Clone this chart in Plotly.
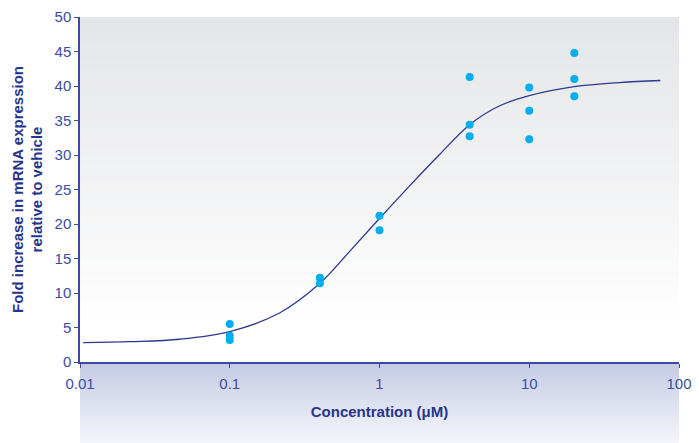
import plotly.graph_objects as go

# Measured data points
conc = [0.1, 0.1, 0.1, 0.4, 0.4, 1, 1, 4, 4, 4, 10, 10, 10, 20, 20, 20]
fold = [5.5, 3.8, 3.2, 12.2, 11.4, 21.2, 19.1, 41.3, 34.4, 32.7, 39.8, 36.4, 32.3, 44.8, 41.0, 38.5]

# Fitted curve
curve_x = [0.0105, 0.0215, 0.0465, 0.1, 0.215, 0.4, 0.63, 1.0, 1.6, 2.5, 4.0, 6.3, 10, 20, 40, 75]
curve_y = [2.8, 2.95, 3.3, 4.4, 7.1, 11.4, 16.0, 20.8, 25.6, 30.0, 34.4, 37.1, 38.6, 39.9, 40.5, 40.8]

x_ticks = [0.01, 0.1, 1, 10, 100]
x_tick_labels = ["0.01", "0.1", "1", "10", "100"]
y_ticks = [0, 5, 10, 15, 20, 25, 30, 35, 40, 45, 50]

AXIS = "#3a4a9c"
LABEL = "#3a4ea0"
TITLE = "#26358a"

fig = go.Figure()
fig.add_trace(go.Scatter(x=curve_x, y=curve_y, mode="lines",
                         line=dict(color="#2b3990", width=1.3, shape="spline"),
                         hoverinfo="skip", showlegend=False))
fig.add_trace(go.Scatter(x=conc, y=fold, mode="markers",
                         marker=dict(color="#00aeef", size=8),
                         showlegend=False))

def lerp(c1, c2, t):
    return "rgb(%d,%d,%d)" % tuple(round(a + (b - a) * t) for a, b in zip(c1, c2))

shapes = []
# plot area gradient (gray top -> white near bottom)
n = 40
top_c = (228, 229, 232)
bot_c = (255, 255, 255)
for i in range(n):
    y0 = 1 - i / n
    y1 = 1 - (i + 1.3) / n
    t = min(1.0, (i + 0.5) / (n * 0.9))
    shapes.append(dict(type="rect", xref="paper", yref="paper", x0=0, x1=1, y0=max(y1, 0), y1=y0,
                       fillcolor=lerp(top_c, bot_c, t), line=dict(width=0), layer="below"))
# band below x axis (lavender -> near white)
m = 30
band_h = 81 / 345
b_top = (196, 202, 228)
b_bot = (245, 246, 251)
for i in range(m):
    y0 = -band_h * i / m
    y1 = -band_h * (i + 1.4) / m
    t = (i + 0.5) / m
    shapes.append(dict(type="rect", xref="paper", yref="paper", x0=0, x1=1, y0=max(y1, -band_h), y1=y0,
                       fillcolor=lerp(b_top, b_bot, t), line=dict(width=0), layer="below"))

fig.update_layout(
    width=699, height=443,
    margin=dict(l=80, r=20, t=17, b=81),
    paper_bgcolor="white",
    plot_bgcolor="rgba(0,0,0,0)",
    shapes=shapes,
    font=dict(family="Liberation Sans, Arial, sans-serif", color=LABEL),
)
fig.update_xaxes(
    type="log", range=[-2, 2], tickvals=x_ticks, ticktext=x_tick_labels,
    showgrid=False, zeroline=False, showline=True, linecolor=AXIS, linewidth=1.5,
    ticks="outside", ticklen=4, tickcolor=AXIS, tickwidth=1,
    tickfont=dict(size=15, color=LABEL), ticklabelstandoff=3,
    title=dict(text="Concentration (μM)", standoff=16,
               font=dict(size=15, color=TITLE, weight="bold")),
    automargin=False,
)
fig.update_yaxes(
    range=[0, 50], tickvals=y_ticks,
    showgrid=False, zeroline=False, showline=True, linecolor=AXIS, linewidth=1.5,
    ticks="outside", ticklen=4, tickcolor=AXIS, tickwidth=1,
    tickfont=dict(size=15, color=LABEL),
    title=dict(text="Fold increase in mRNA expression<br>relative to vehicle", standoff=8,
               font=dict(size=15, color=TITLE, weight="bold")),
    automargin=False,
)
fig.write_html("out.html", config={"displayModeBar": False},
               post_script="document.body.style.margin='0';document.body.style.overflow='hidden';")
